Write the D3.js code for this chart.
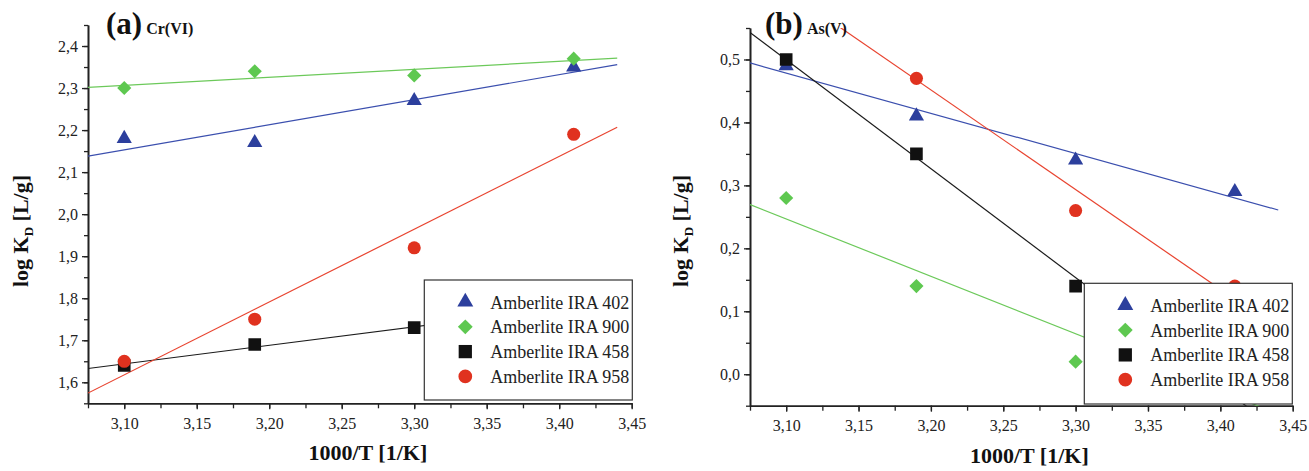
<!DOCTYPE html>
<html>
<head>
<meta charset="utf-8">
<script src="https://cdn.jsdelivr.net/npm/d3@7"></script>
<style>
  body { margin: 0; background: #fff; }
  svg { display: block; font-family: 'Liberation Serif', 'Times New Roman', serif; }
  .axis path, .axis line { stroke: #222; }
  .axis text { font-family: 'Liberation Serif', 'Times New Roman', serif; font-size: 16px; fill: #222; }
</style>
</head>
<body>
<svg id="chart" width="1309" height="471"></svg>
<script>
// temperatures, 1000/T
const xValues = [3.10, 3.19, 3.30, 3.41]
const seriesNames = ['Amberlite IRA 402', 'Amberlite IRA 900', 'Amberlite IRA 458', 'Amberlite IRA 958']

// (a) Cr(VI)
const crIRA402 = [2.18, 2.17, 2.27, 2.35]
const crIRA900 = [2.30, 2.34, 2.33, 2.37]
const crIRA458 = [1.64, 1.69, 1.73, 1.78]
const crIRA958 = [1.65, 1.75, 1.92, 2.19]

// (b) As(V)
const asIRA402 = [0.49, 0.41, 0.34, 0.29]
const asIRA900 = [0.28, 0.14, 0.02, 0.00]
const asIRA458 = [0.50, 0.35, 0.14, -0.03]
const asIRA958 = [0.62, 0.47, 0.26, 0.14]

const xDomain = [3.075, 3.45]
const xTicks = [3.10, 3.15, 3.20, 3.25, 3.30, 3.35, 3.40, 3.45]
const fitRange = [3.075, 3.44]
const crDomain = [1.55, 2.45]
const crTicks = [1.6, 1.7, 1.8, 1.9, 2.0, 2.1, 2.2, 2.3, 2.4]
const asDomain = [-0.05, 0.55]
const asTicks = [0.0, 0.1, 0.2, 0.3, 0.4, 0.5]

const markerColors = ['#2c3f9d', '#5ec850', '#111111', '#e0321f']
const lineColors = ['#3b4fae', '#6cc95a', '#1a1a1a', '#e8432f']
const symbols = [d3.symbolTriangle, d3.symbolSquare, d3.symbolSquare, d3.symbolCircle]
const symbolSizes = [100, 100, 160, 135]
const symbolRotate = [0, 45, 0, 0]

const comma = f => v => d3.format(f)(v).replace('.', ',')

function linearFit(xs, ys) {
  const mx = d3.mean(xs), my = d3.mean(ys)
  const sxy = d3.sum(xs, (x, i) => (x - mx) * (ys[i] - my))
  const sxx = d3.sum(xs, x => (x - mx) * (x - mx))
  const slope = sxy / sxx
  return x => my + slope * (x - mx)
}

const svg = d3.select('#chart')

function drawPanel(cfg) {
  const g = svg.append('g').attr('transform', `translate(${cfg.left},${cfg.top})`)
  const x = d3.scaleLinear().domain(xDomain).range([0, cfg.width])
  const y = d3.scaleLinear().domain(cfg.yDomain).range([cfg.height, 0])

  const clipId = 'clip-' + cfg.id
  g.append('clipPath').attr('id', clipId)
    .append('rect').attr('width', cfg.width).attr('height', cfg.height)

  // minor ticks
  const xMinor = d3.range(xDomain[0], xDomain[1] + 1e-9, 0.025)
  g.append('g').classed('axis', true)
    .attr('transform', `translate(0,${cfg.height})`)
    .call(d3.axisBottom(x).tickValues(xMinor).tickSize(5).tickSizeOuter(0).tickFormat(''))
  const yMinor = d3.range(cfg.yDomain[0], cfg.yDomain[1] + 1e-9, 0.05)
  g.append('g').classed('axis', true)
    .call(d3.axisLeft(y).tickValues(yMinor).tickSize(4).tickSizeOuter(0).tickFormat(''))

  const ax = g.append('g').classed('axis', true)
    .attr('transform', `translate(0,${cfg.height})`)
    .call(d3.axisBottom(x).tickValues(xTicks).tickSize(6).tickSizeOuter(0).tickFormat(comma('.2f')))
  ax.selectAll('text').attr('y', 14)
  const ay = g.append('g').classed('axis', true)
    .call(d3.axisLeft(y).tickValues(cfg.yTicks).tickSize(6).tickSizeOuter(0).tickFormat(comma('.1f')))
  ay.selectAll('text').attr('x', -10)
  g.selectAll('.axis').attr('font-family', null)
  g.selectAll('.axis path.domain').attr('stroke-width', 1.6)
  g.selectAll('.axis .tick line').attr('stroke-width', 1.3)

  const plot = g.append('g').attr('clip-path', `url(#${clipId})`)

  cfg.series.forEach((ys, i) => {
    const fit = linearFit(xValues, ys)
    plot.append('line')
      .attr('x1', x(fitRange[0])).attr('y1', y(fit(fitRange[0])))
      .attr('x2', x(fitRange[1])).attr('y2', y(fit(fitRange[1])))
      .attr('stroke', lineColors[i])
      .attr('stroke-width', 1.2)
  })

  cfg.series.forEach((ys, i) => {
    plot.selectAll(null)
      .data(xValues.map((xv, j) => [xv, ys[j]]))
      .join('path')
      .attr('d', d3.symbol(symbols[i], symbolSizes[i]))
      .attr('transform', d => `translate(${x(d[0])},${y(d[1])}) rotate(${symbolRotate[i]})`)
      .attr('fill', markerColors[i])
  })

  // legend
  const lg = svg.append('g').attr('transform', `translate(${cfg.legend.x},${cfg.legend.y})`)
  lg.append('rect')
    .attr('width', cfg.legend.w).attr('height', cfg.legend.h)
    .attr('fill', '#fff').attr('stroke', '#333').attr('stroke-width', 1.2)
  seriesNames.forEach((name, i) => {
    const cy = 22 + i * 24.8
    lg.append('path')
      .attr('d', d3.symbol(symbols[i], symbolSizes[i] * 1.1))
      .attr('transform', `translate(41,${cy}) rotate(${symbolRotate[i]})`)
      .attr('fill', markerColors[i])
    lg.append('text')
      .attr('x', 66).attr('y', cy + 6.5)
      .attr('font-size', 18)
      .attr('fill', '#222')
      .text(name)
  })

  // titles
  const title = svg.append('text')
    .attr('x', cfg.title.x).attr('y', 34)
    .attr('font-weight', 'bold').attr('fill', '#111')
  title.append('tspan').attr('font-size', 31).text(cfg.title.letter)
  title.append('tspan').attr('font-size', 16).attr('dx', 4).text(cfg.title.ion)

  svg.append('text')
    .attr('x', cfg.left + cfg.width / 2 + 8).attr('y', cfg.top + cfg.height + 57)
    .attr('text-anchor', 'middle')
    .attr('font-size', 22).attr('font-weight', 'bold').attr('fill', '#111')
    .text('1000/T [1/K]')

  const yt = svg.append('text')
    .attr('transform', `translate(${cfg.yTitleX},231) rotate(-90)`)
    .attr('text-anchor', 'middle')
    .attr('font-size', 22).attr('font-weight', 'bold').attr('fill', '#111')
  yt.append('tspan').text('log K')
  yt.append('tspan').attr('font-size', 13).attr('dy', 5).text('D')
  yt.append('tspan').attr('dy', -5).text(' [L/g]')
}

drawPanel({
  id: 'a', left: 88, top: 25, width: 543.7, height: 378.3,
  yDomain: crDomain, yTicks: crTicks,
  series: [crIRA402, crIRA900, crIRA458, crIRA958],
  legend: { x: 424.3, y: 280, w: 208, h: 120 },
  title: { x: 106, letter: '(a)', ion: 'Cr(VI)' },
  yTitleX: 28
})

drawPanel({
  id: 'b', left: 750, top: 28, width: 542.7, height: 377.7,
  yDomain: asDomain, yTicks: asTicks,
  series: [asIRA402, asIRA900, asIRA458, asIRA958],
  legend: { x: 1084.3, y: 283.3, w: 208, h: 120.7 },
  title: { x: 765, letter: '(b)', ion: 'As(V)' },
  yTitleX: 688
})
</script>
</body>
</html>
